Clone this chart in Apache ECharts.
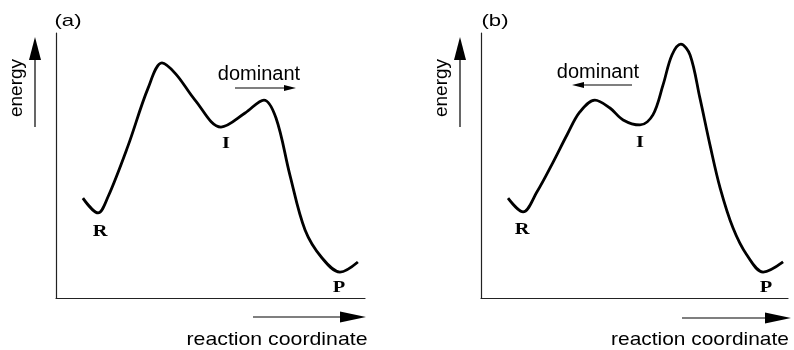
<!DOCTYPE html>
<html>
<head>
<meta charset="utf-8">
<script src="https://cdn.jsdelivr.net/npm/echarts@6/dist/echarts.min.js"></script>
<style>
html,body{margin:0;padding:0;background:#fff;}
#chart{width:794px;height:350px;}
</style>
</head>
<body>
<div id="chart"></div>
<script>
// Panel (a): reaction coordinate (0-100) and energy (0-100)
const coordA  = [8.7, 13.6, 16.8, 23.3, 29.8, 34.3, 38.8, 45.0, 53.4, 61.2, 67.3, 71.2, 75.7, 80.6, 86.1, 91.9, 97.7];
const energyA = [37.7, 32.1, 38.1, 57.4, 79.2, 88.7, 84.5, 74.7, 64.5, 69.8, 74.7, 67.9, 46.4, 25.7, 15.1, 9.8, 13.6];
// Panel (b)
const coordB  = [8.8, 13.7, 18.2, 23.5, 28.0, 32.2, 37.1, 42.0, 46.3, 51.8, 56.0, 59.3, 62.2, 65.1, 68.1, 71.3, 74.6, 77.9, 82.1, 86.6, 91.9, 98.4];
const energyB = [37.7, 32.5, 40.0, 51.3, 61.5, 70.2, 74.7, 71.7, 67.2, 65.3, 69.1, 80.4, 91.7, 95.8, 91.7, 75.5, 57.7, 41.5, 26.4, 16.2, 9.8, 13.6];

const panelTitles = ['(a)', '(b)'];
const stateLabels = ['R', 'I', 'P'];
const yAxisTitle = 'energy';
const xAxisTitle = 'reaction coordinate';
const arrowNote = 'dominant';

const zip = (xs, ys) => xs.map((x, i) => [x, ys[i]]);

const chart = echarts.init(document.getElementById('chart'), null, {renderer: 'canvas'});

const axisCommon = {
  type: 'value', min: 0, max: 100,
  axisLine: {show: true, lineStyle: {color: '#222', width: 1.2}},
  axisTick: {show: false}, axisLabel: {show: false}, splitLine: {show: false}
};

const sansFont = '19px "Liberation Sans", Arial, sans-serif';
const serifBold = 'bold 17px "Liberation Serif", "Times New Roman", serif';

function txt(text, x, y, font, sx, rot) {
  return {
    type: 'text', x: x, y: y, scaleX: sx || 1, rotation: rot || 0,
    style: {text: text, x: 0, y: 0, font: font, fill: '#000', align: 'center', verticalAlign: 'middle'},
    silent: true
  };
}
function line(x1, y1, x2, y2, w) {
  return {type: 'line', shape: {x1, y1, x2, y2}, style: {stroke: '#000', lineWidth: w || 1.2}, silent: true};
}
function poly(points) {
  return {type: 'polygon', shape: {points: points}, style: {fill: '#000'}, silent: true};
}

const graphics = [];
// panel (a)
graphics.push(txt(panelTitles[0], 68, 21, '17px "Liberation Sans", Arial, sans-serif', 1.3));
graphics.push(txt(yAxisTitle, 17, 88, sansFont, 1, Math.PI / 2));
graphics.push(line(35, 127, 35, 58));
graphics.push(poly([[35, 37], [29, 60], [41, 60]]));
graphics.push(txt(arrowNote, 259, 74, '20px "Liberation Sans", Arial, sans-serif', 1));
graphics.push(line(235, 88, 288, 88));
graphics.push(poly([[296, 88], [284, 85], [284, 91]]));
graphics.push(line(253, 317, 342, 317));
graphics.push(poly([[366, 317], [340, 311.5], [340, 322.5]]));
graphics.push(txt(xAxisTitle, 277, 340, sansFont, 1.12));
graphics.push(txt(stateLabels[0], 100, 232, serifBold, 1.2));
graphics.push(txt(stateLabels[1], 226, 144, serifBold, 1.2));
graphics.push(txt(stateLabels[2], 339, 288, serifBold, 1.2));
// panel (b)
graphics.push(txt(panelTitles[1], 495, 21, '17px "Liberation Sans", Arial, sans-serif', 1.3));
graphics.push(txt(yAxisTitle, 442, 88, sansFont, 1, Math.PI / 2));
graphics.push(line(460, 127, 460, 58));
graphics.push(poly([[460, 37], [454, 60], [466, 60]]));
graphics.push(txt(arrowNote, 598, 72, '20px "Liberation Sans", Arial, sans-serif', 1));
graphics.push(line(580, 85, 632, 85));
graphics.push(poly([[572, 85], [584, 82], [584, 88]]));
graphics.push(line(682, 318, 767, 318));
graphics.push(poly([[791, 318], [765, 312.5], [765, 323.5]]));
graphics.push(txt(xAxisTitle, 700, 340, sansFont, 1.1));
graphics.push(txt(stateLabels[0], 522, 230, serifBold, 1.2));
graphics.push(txt(stateLabels[1], 640, 143, serifBold, 1.2));
graphics.push(txt(stateLabels[2], 766, 288, serifBold, 1.2));

chart.setOption({
  animation: false,
  backgroundColor: '#fff',
  grid: [
    {left: 56, top: 33, width: 309, height: 265},
    {left: 481, top: 33, width: 307, height: 265}
  ],
  xAxis: [Object.assign({gridIndex: 0}, axisCommon), Object.assign({gridIndex: 1}, axisCommon)],
  yAxis: [Object.assign({gridIndex: 0}, axisCommon), Object.assign({gridIndex: 1}, axisCommon)],
  series: [
    {type: 'line', xAxisIndex: 0, yAxisIndex: 0, data: zip(coordA, energyA), smooth: 0.35, showSymbol: false,
     lineStyle: {color: '#000', width: 2.8}, silent: true},
    {type: 'line', xAxisIndex: 1, yAxisIndex: 1, data: zip(coordB, energyB), smooth: 0.35, showSymbol: false,
     lineStyle: {color: '#000', width: 2.8}, silent: true}
  ],
  graphic: graphics
});
</script>
</body>
</html>
